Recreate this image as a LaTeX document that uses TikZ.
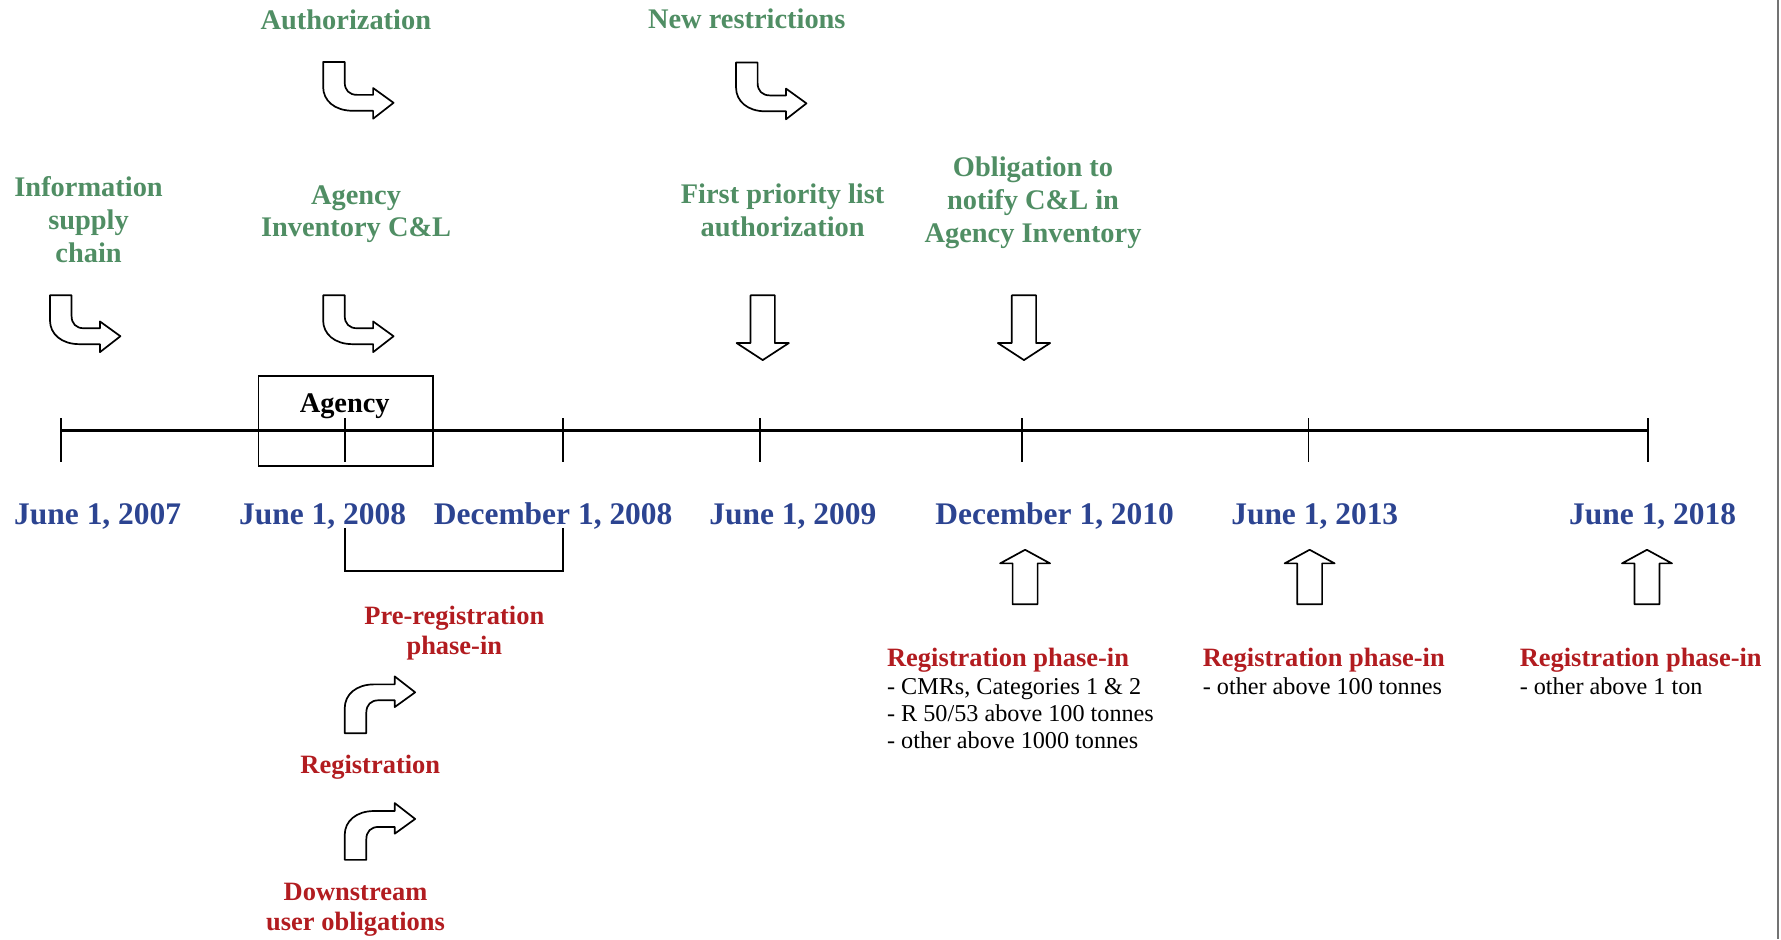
\documentclass[tikz,border=0pt]{standalone}
\usepackage{fontspec}
\setmainfont{Liberation Serif}
\definecolor{labelgreen}{RGB}{80,142,100}
\definecolor{dateblue}{RGB}{44,68,145}
\definecolor{labelred}{RGB}{178,28,32}
\begin{document}
\begin{tikzpicture}[x=0.5pt,y=-0.5pt,
  every node/.style={inner sep=0pt, outer sep=0pt},
  % multi-line labels are anchored at the baseline of their last line
  greenlabel/.style={text=labelgreen, font=\fontsize{12.5}{14.5}\selectfont\bfseries, align=center, anchor=base},
  datelabel/.style={text=dateblue, font=\fontsize{13.85}{16}\selectfont\bfseries, anchor=base},
  redlabel/.style={text=labelred, font=\fontsize{11.65}{13.2}\selectfont\bfseries, align=center, anchor=base},
  phaselist/.style={font=\fontsize{10.65}{12}\selectfont, align=left, anchor=base west},
  timeline/.style={line width=1.2pt},
  tickmark/.style={line width=0.8pt},
  blockshape/.style={draw=black, line width=0.75pt, fill=white, line join=round},
  bentarrow/.pic={\path[blockshape] (0,50) -- (19,50) -- (19,32) .. controls (19,25) and (23,21) .. (30,21) -- (44,21) -- (44,27) -- (62,14) -- (44,0) -- (44,7) -- (26,7) .. controls (10,7) and (0,16) .. (0,28) -- cycle;},
  downblock/.pic={\path[blockshape] (-10.7,0) -- (10.7,0) -- (10.7,42) -- (23,42) -- (0,57) -- (-23,42) -- (-10.7,42) -- cycle;},
  upblock/.pic={\path[blockshape] (0,0) -- (22,12) -- (11,12) -- (11,48) -- (-11,48) -- (-11,12) -- (-22,12) -- cycle;},
]
\useasboundingbox (0,0) rectangle (1568,827);

% right frame edge
\draw[line width=1pt, black!55] (1565.5,0) -- (1565.5,827);

% time axis with its ticks
\coordinate (t0) at (54,379);
\coordinate (t1) at (304,379);
\coordinate (t2) at (496,379);
\coordinate (t3) at (669,379);
\coordinate (t4) at (900,379);
\coordinate (t5) at (1152,379);
\coordinate (t6) at (1451,379);
\draw[timeline] (t0) -- (t6);
\foreach \t in {t0,t1,t2,t3,t4,t5,t6}
  \draw[tickmark] (\t) ++(0,-11) -- ++(0,39);

% Agency box around the first tick
\node[draw, line width=0.75pt, minimum width=77pt, minimum height=39.5pt] (agencybox) at (304.5,370.5) {};
\node[font=\fontsize{12.5}{14}\selectfont\bfseries, anchor=base] (agencytxt) at (303.5,363.5) {Agency};

% bracket for the pre-registration period
\coordinate (b1) at (304,465);
\coordinate (b2) at (496,465);
\draw[tickmark] (b1) -- ++(0,38) -| (b2);

% dates
\node[datelabel] (d2007) at (86,462) {June 1, 2007};
\node[datelabel] (d2008a) at (284,462) {June 1, 2008};
\node[datelabel] (d2008b) at (487,462) {December 1, 2008};
\node[datelabel] (d2009) at (698,462) {June 1, 2009};
\node[datelabel] (d2010) at (928.5,462) {December 1, 2010};
\node[datelabel] (d2013) at (1157.5,462) {June 1, 2013};
\node[datelabel] (d2018) at (1455,462) {June 1, 2018};

% upper labels
\node[greenlabel] (authlbl) at (304.5,26.4) {Authorization};
\node[greenlabel] (newrestr) at (657.5,25) {New restrictions};
\node[greenlabel] (infosupply) at (78,231) {Information\\supply\\chain};
\node[greenlabel] (agencyinv) at (313.5,208.6) {Agency\\Inventory C\&L};
\node[greenlabel] (priority) at (689,208) {First priority list\\authorization};
\node[greenlabel] (notify) at (909.5,213.6) {Obligation to\\notify C\&L in\\Agency Inventory};

\pic[yscale=-1] at (284.5,104.5) {bentarrow};
\pic[yscale=-1] at (648,105) {bentarrow};
\pic[yscale=-1] at (44,310) {bentarrow};
\pic[yscale=-1] at (284.5,310) {bentarrow};
\pic at (671.5,260) {downblock};
\pic at (901.5,260) {downblock};

% lower labels
\node[redlabel] (prereg) at (400,576) {Pre-registration\\phase-in};
\node[redlabel] (reg) at (326,681) {Registration};
\node[redlabel] (downstream) at (313,819) {Downstream\\user obligations};
\pic at (303.5,595.5) {bentarrow};
\pic at (303.5,707) {bentarrow};

\pic at (902.5,484) {upblock};
\pic at (1153,484) {upblock};
\pic at (1450,484) {upblock};

\node[phaselist] (phase2010) at (781,659) {{\color{labelred}\fontsize{11.65}{13}\selectfont\bfseries Registration phase-in}\\- CMRs, Categories 1 \& 2\\- R 50/53 above 100 tonnes\\- other above 1000 tonnes};
\node[phaselist] (phase2013) at (1059,611) {{\color{labelred}\fontsize{11.65}{13}\selectfont\bfseries Registration phase-in}\\- other above 100 tonnes};
\node[phaselist] (phase2018) at (1338,611) {{\color{labelred}\fontsize{11.65}{13}\selectfont\bfseries Registration phase-in}\\- other above 1 ton};
\end{tikzpicture}
\end{document}
